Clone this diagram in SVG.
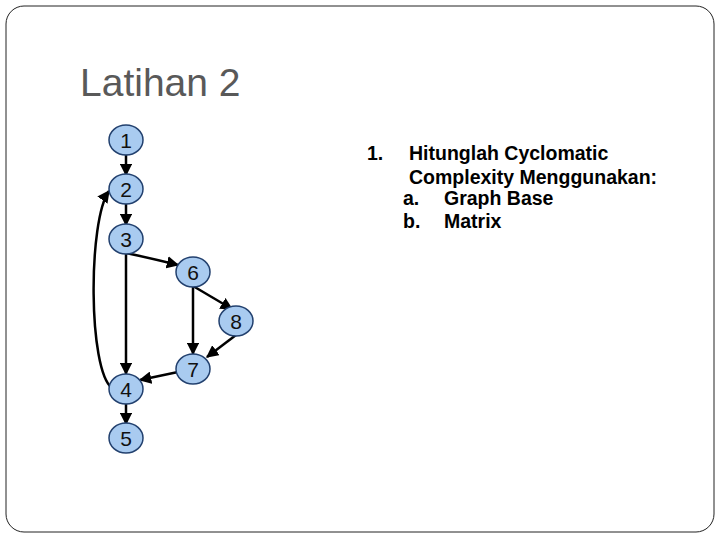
<svg xmlns="http://www.w3.org/2000/svg" width="720" height="540" viewBox="0 0 720 540">
<style>
.n ellipse{fill:#a9cbf0;stroke:#22406e;stroke-width:1.5}
.n text{font-family:"Liberation Sans",Arial,sans-serif;font-size:21px;fill:#111;text-anchor:middle}
.e{stroke:#000;stroke-width:2.5;fill:none;marker-end:url(#a)}
.t{font-family:"Liberation Sans",Arial,sans-serif;font-size:19.5px;font-weight:bold;fill:#000}
</style>
<defs><marker id="a" viewBox="0 0 10 10" refX="9" refY="5" markerWidth="5" markerHeight="5" orient="auto" markerUnits="strokeWidth"><path d="M0,0L10,5L0,10z" fill="#000"/></marker></defs>
<rect width="720" height="540" fill="#fff"/>
<rect x="6" y="6" width="708" height="526" rx="18" fill="none" stroke="#222" stroke-width="1"/>
<text x="80" y="96" font-family="'Liberation Sans',Arial,sans-serif" font-size="39" fill="#595959">Latihan 2</text>
<g id="connectors">
<line class="e" x1="126" y1="154" x2="126" y2="175"/>
<line class="e" x1="126" y1="203" x2="126" y2="225"/>
<line class="e" x1="126" y1="253" x2="126" y2="374"/>
<path class="e" d="M126,253 Q150,258 178,265"/>
<line class="e" x1="193" y1="286" x2="232" y2="309"/>
<line class="e" x1="193" y1="286" x2="193" y2="354"/>
<line class="e" x1="236" y1="335" x2="207" y2="357"/>
<line class="e" x1="178" y1="372" x2="140" y2="380"/>
<path class="e" d="M112,388 C88,370 88,220 109,191"/>
<line class="e" x1="126" y1="403" x2="126" y2="424"/>
</g>
<g id="n1" class="n"><ellipse cx="126" cy="140" rx="17" ry="15"/><text x="126" y="147.5">1</text></g>
<g id="n2" class="n"><ellipse cx="126" cy="189" rx="17" ry="15"/><text x="126" y="196.5">2</text></g>
<g id="n3" class="n"><ellipse cx="126" cy="239" rx="17" ry="15"/><text x="126" y="246.5">3</text></g>
<g id="n6" class="n"><ellipse cx="193" cy="272" rx="17" ry="15"/><text x="193" y="279.5">6</text></g>
<g id="n8" class="n"><ellipse cx="236" cy="321" rx="17" ry="15"/><text x="236" y="328.5">8</text></g>
<g id="n7" class="n"><ellipse cx="193" cy="369" rx="17" ry="15"/><text x="193" y="376.5">7</text></g>
<g id="n4" class="n"><ellipse cx="126" cy="389" rx="17" ry="15"/><text x="126" y="396.5">4</text></g>
<g id="n5" class="n"><ellipse cx="126" cy="438" rx="17" ry="15"/><text x="126" y="445.5">5</text></g>
<g id="text">
<text class="t" x="367" y="160">1.</text>
<text class="t" x="409" y="160">Hitunglah Cyclomatic</text>
<text class="t" x="409" y="184">Complexity Menggunakan:</text>
<text class="t" x="403" y="205">a.</text>
<text class="t" x="444" y="205">Graph Base</text>
<text class="t" x="403" y="228">b.</text>
<text class="t" x="444" y="228">Matrix</text>
</g>
</svg>
